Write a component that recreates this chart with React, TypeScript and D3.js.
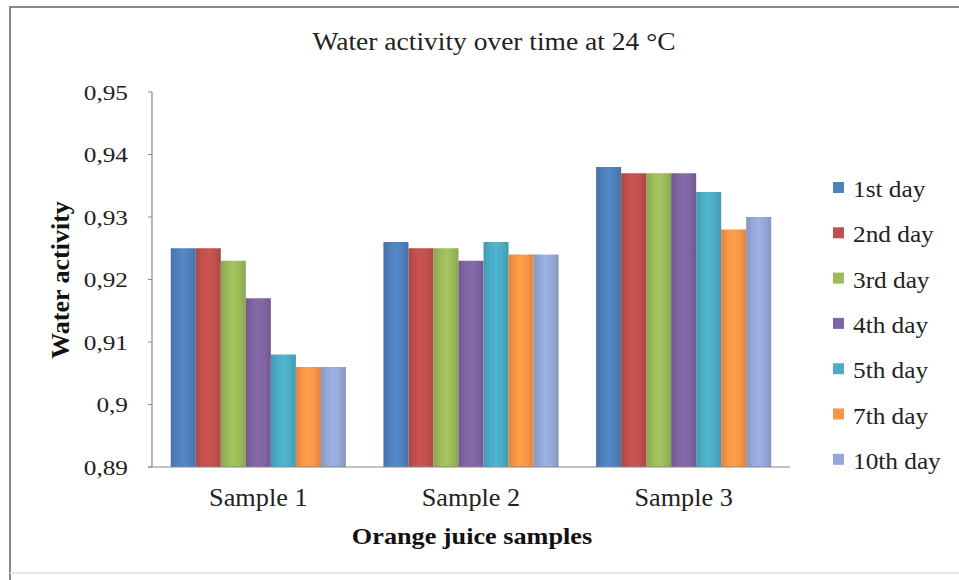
import React from "react";
import * as d3 from "d3";

const categories = ["Sample 1", "Sample 2", "Sample 3"];
const seriesNames = ["1st day", "2nd day", "3rd day", "4th day", "5th day", "7th day", "10th day"];
const day1 = [0.925, 0.926, 0.938];
const day2 = [0.925, 0.925, 0.937];
const day3 = [0.923, 0.925, 0.937];
const day4 = [0.917, 0.923, 0.937];
const day5 = [0.908, 0.926, 0.934];
const day7 = [0.906, 0.924, 0.928];
const day10 = [0.906, 0.924, 0.930];
const seriesValues = [day1, day2, day3, day4, day5, day7, day10];
const colors = ["#4F81BD", "#C0504D", "#9BBB59", "#8064A2", "#4BACC6", "#F79646", "#95A9D8"];
const yTicks = [0.89, 0.9, 0.91, 0.92, 0.93, 0.94, 0.95];

const W = 959;
const H = 580;
const left = 152;
const right = 790;
const top = 92;
const bottom = 467;
const font = "Liberation Serif";

function T({ x, y, size, sx = 1, bold = false, anchor = "start", rotate = 0, children }: any) {
  return (
    <g transform={`translate(${x},${y}) rotate(${rotate}) scale(${sx},1)`}>
      <text
        x={0}
        y={0}
        textAnchor={anchor}
        fill={bold ? "#111" : "#222"}
        style={{ fontFamily: font, fontSize: size, fontWeight: bold ? 700 : 400 }}
      >
        {children}
      </text>
    </g>
  );
}

export default function App() {
  const y = d3.scaleLinear().domain([0.89, 0.95]).range([bottom, top]);
  const x0 = d3.scaleBand().domain(categories).range([left, right]).paddingInner(0).paddingOuter(0);
  const bw = x0.bandwidth();
  const groupW = (bw * 7) / 8.5;
  const x1 = d3.scaleBand().domain(seriesNames).range([0, groupW]);
  const fmt = (v: number) => (Math.round(v * 100) / 100).toString().replace(".", ",");

  return (
    <svg width={W} height={H} style={{ position: "absolute", left: 0, top: 0, background: "#fff" }}>
      <defs>
        {colors.map((c, i) => {
          const dark = d3.color(c)!.darker(0.35).toString();
          const light = d3.color(c)!.brighter(0.15).toString();
          return (
            <linearGradient key={i} id={`g${i}`} x1="0" x2="1" y1="0" y2="0">
              <stop offset="0" stopColor={dark} />
              <stop offset="0.25" stopColor={c} />
              <stop offset="0.5" stopColor={light} />
              <stop offset="0.75" stopColor={c} />
              <stop offset="1" stopColor={dark} />
            </linearGradient>
          );
        })}
      </defs>
      <rect x={0} y={0} width={W} height={H} fill="#fff" />
      <line x1={10} y1={6} x2={10} y2={H} stroke="#888" strokeWidth={2} />
      <line x1={9} y1={7} x2={W} y2={7} stroke="#888" strokeWidth={2} />
      <line x1={10} y1={573} x2={W} y2={573} stroke="#e6e6e6" strokeWidth={2} />

      <T x={494} y={50} size={25} sx={1.1} anchor="middle">
        Water activity over time at 24 °C
      </T>

      {seriesValues.map((vals, si) =>
        vals.map((v, ci) => {
          const bx = (x0(categories[ci]) as number) + (bw - groupW) / 2 + (x1(seriesNames[si]) as number);
          return (
            <rect
              key={`${si}-${ci}`}
              x={bx}
              y={y(v)}
              width={x1.bandwidth()}
              height={bottom - y(v)}
              fill={`url(#g${si})`}
            />
          );
        })
      )}

      <line x1={left} y1={top} x2={left} y2={bottom} stroke="#888" strokeWidth={1.2} />
      <line x1={left - 4} y1={bottom} x2={right} y2={bottom} stroke="#888" strokeWidth={1.2} />
      {yTicks.map((t) => (
        <g key={t}>
          <line x1={left - 4} x2={left} y1={y(t)} y2={y(t)} stroke="#888" />
          <T x={128} y={y(t) + 7.5} size={22} sx={1.15} anchor="end">
            {fmt(t)}
          </T>
        </g>
      ))}

      {categories.map((c) => (
        <T key={c} x={(x0(c) as number) + bw / 2} y={506} size={26} sx={1.01} anchor="middle">
          {c}
        </T>
      ))}

      <T x={472} y={544} size={23} sx={1.14} bold anchor="middle">
        Orange juice samples
      </T>
      <T x={69} y={280} size={26} sx={1} bold anchor="middle" rotate={-90}>
        Water activity
      </T>

      {seriesNames.map((s, i) => {
        const by = 197 + i * 45.3;
        return (
          <g key={s}>
            <rect x={833} y={by - 15} width={11} height={11} fill={colors[i]} />
            <T x={853} y={by} size={23} sx={1.1}>
              {s}
            </T>
          </g>
        );
      })}
    </svg>
  );
}
